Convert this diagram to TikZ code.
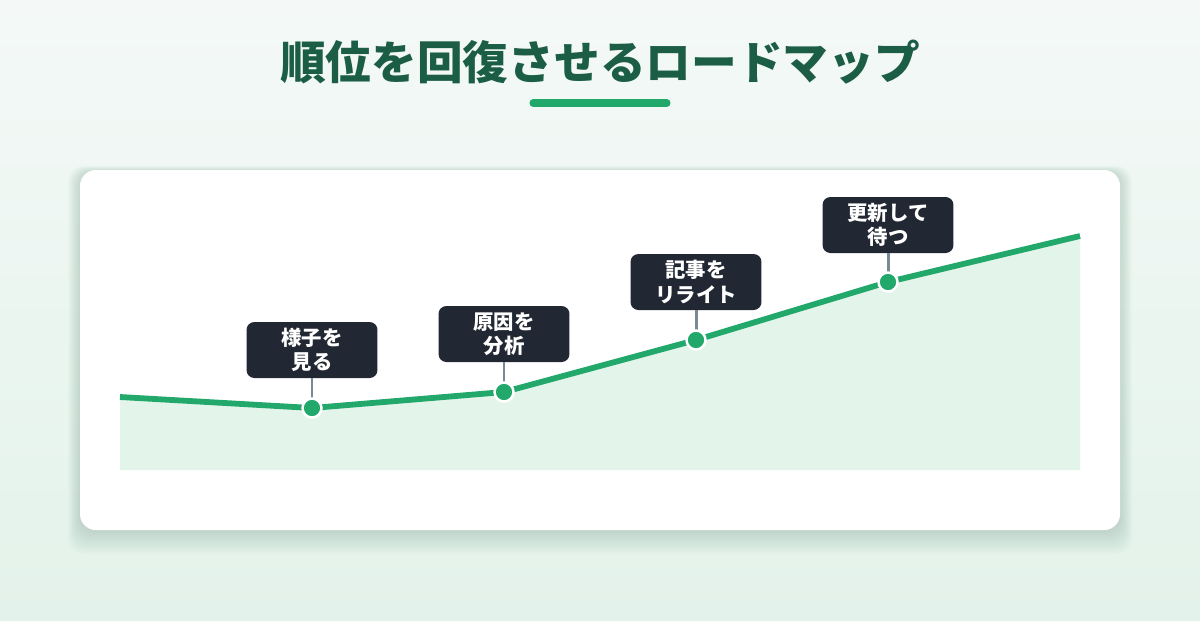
\documentclass[tikz,border=0pt]{standalone}
\usepackage{fontspec}
\newfontfamily\cjk{Noto Sans CJK JP}
\definecolor{RMgreen}{HTML}{22A86B}
\definecolor{RMdark}{HTML}{1B5E45}
\definecolor{RMfill}{HTML}{E3F5EA}
\definecolor{RMbox}{HTML}{222833}
\definecolor{RMstem}{HTML}{7A8A94}
\definecolor{RMbgtop}{HTML}{F4F9F7}
\definecolor{RMbgbot}{HTML}{E3F2EA}
\definecolor{RMshadow}{HTML}{6E8F80}
\usetikzlibrary{calc, positioning}

\begin{document}
\begin{tikzpicture}[
      x=0.02cm, y=-0.02cm,
      stepbox/.style={fill=RMbox, rounded corners=4.5pt, text=white,
         minimum width=2.62cm, minimum height=1.12cm, inner sep=0pt,
         align=center, font=\cjk\bfseries\fontsize{11.6}{13.8}\selectfont},
      stem/.style={draw=RMstem, line width=1.7pt},
      dot/.style={circle, fill=RMgreen, draw=white, line width=1.4pt,
         minimum size=0.38cm, inner sep=0pt},
   ]
      \useasboundingbox (0,0) rectangle (1200,620);

      % background
      \shade[top color=RMbgtop, bottom color=RMbgbot] (0,0) rectangle (1200,620);

      % title
      \node[font=\cjk\bfseries\fontsize{26}{30}\selectfont, text=RMdark] (title) at (600,62)
         {順位を回復させるロードマップ};
      \draw[RMgreen, line width=4pt, line cap=round] (533,103) -- (667,103);

      % card with soft shadow
      \foreach \s in {2,4,...,30}
         \fill[RMshadow, opacity=0.018, rounded corners=9pt]
            (80-\s*0.4,172-\s*0.2) rectangle (1120+\s*0.4,530+\s*0.8);
      \fill[white, rounded corners=9pt] (80,170) rectangle (1120,530);

      % curve points
      \coordinate (p0) at (120,397);
      \coordinate (p1) at (312,408);
      \coordinate (p2) at (504,392);
      \coordinate (p3) at (696,340);
      \coordinate (p4) at (888,282);
      \coordinate (p5) at (1080,236);

      % area and line
      \fill[RMfill] (p0) -- (p1) -- (p2) -- (p3) -- (p4) -- (p5)
         -- (1080,470) -- (120,470) -- cycle;
      \draw[RMgreen, line width=3.3pt, line join=round]
         (p0) -- (p1) -- (p2) -- (p3) -- (p4) -- (p5);

      % milestones
      \node[stepbox] (watch) at (312,350) {様子を\\見る};
      \node[stepbox] (cause) at (504,334) {原因を\\分析};
      \node[stepbox] (rewrite) at (696,282) {記事を\\リライト};
      \node[stepbox] (wait) at (888,225) {更新して\\待つ};

      \foreach \b/\p in {watch/p1, cause/p2, rewrite/p3, wait/p4} {
         \draw[stem] (\b.south) -- (\p);
         \node[dot] at (\p) {};
      }
   \end{tikzpicture}
\end{document}
